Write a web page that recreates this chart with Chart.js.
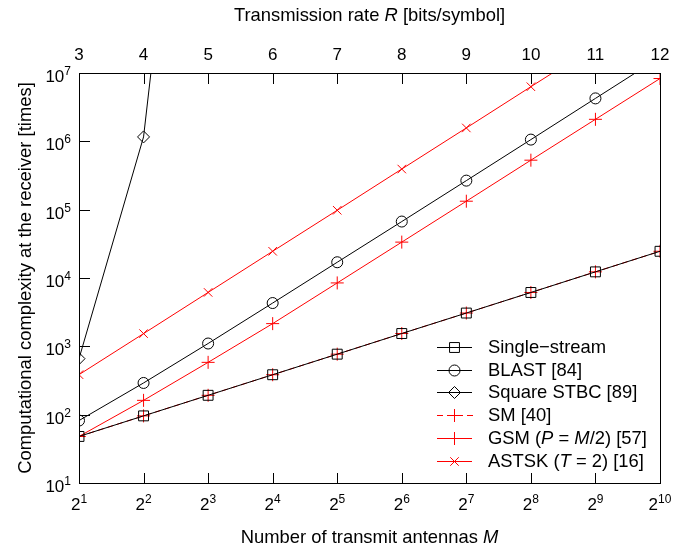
<!DOCTYPE html>
<html>
<head>
<meta charset="utf-8">
<script src="https://cdn.jsdelivr.net/npm/chart.js@4.4.0/dist/chart.umd.min.js"></script>
<style>
  html, body { margin: 0; padding: 0; background: #fff; }
  canvas { display: block; }
</style>
</head>
<body>
<canvas id="chart" width="689" height="550"></canvas>
<script>
// Complexity vs number of transmit antennas (log-log)
const antennas = [2, 4, 8, 16, 32, 64, 128, 256, 512, 1024];
const antennaExps = [1, 2, 3, 4, 5, 6, 7, 8, 9, 10];
const rateTicks = [3, 4, 5, 6, 7, 8, 9, 10, 11, 12];
const complexityExps = [1, 2, 3, 4, 5, 6, 7];

const singleStream = [48, 96, 192, 384, 768, 1540, 3070, 6140, 12300, 24600];
const blast = [82, 291, 1100, 4300, 17000, 67000, 266000, 1060000, 4250000, 17000000];
const squareStbc = [660, 1160000, 200000000000000]; // 2^3 and beyond are far off the chart
const sm = [48, 96, 192, 384, 768, 1540, 3070, 6140, 12300, 24600];
const gsm = [48, 162, 583, 2150, 8470, 33500, 133000, 530000, 2100000, 8300000];
const astsk = [385, 1535, 6150, 24600, 98000, 393000, 1570000, 6300000, 25000000, 100000000];

// legend text, [text, italic] parts
const legendLabels = [
  [['Single\u2212stream', false]],
  [['BLAST [84]', false]],
  [['Square STBC [89]', false]],
  [['SM [40]', false]],
  [['GSM (', false], ['P', true], [' = ', false], ['M', true], ['/2) [57]', false]],
  [['ASTSK (', false], ['T', true], [' = 2) [16]', false]],
];

const BLACK = '#000000';
const RED = '#ff0000';
const seriesColors = [BLACK, BLACK, BLACK, RED, RED, RED];
const seriesMarkers = ['rect', 'circle', 'rectRot', 'cross', 'cross', 'crossRot'];
const markerRadii = [7, 5.5, 6, 6.5, 6.5, 6];
const seriesDash = [[], [], [], [6, 4], [], []];

const FAMILY = '"Liberation Sans", Arial, Helvetica, sans-serif';
const TEXT = 18.4, TICK = 17, SUP = 12;
const font = (size, italic) => (italic ? 'italic ' : '') + size + 'px ' + FAMILY;
const pts = (vals) => vals.map((v, i) => ({ x: antennas[i], y: v }));

function series(data, i) {
  return {
    data: pts(data),
    borderColor: seriesColors[i],
    borderWidth: 1,
    borderDash: seriesDash[i],
    backgroundColor: 'rgba(0,0,0,0)',
    pointStyle: seriesMarkers[i],
    pointRadius: markerRadii[i],
    pointBorderColor: seriesColors[i],
    pointBackgroundColor: 'rgba(0,0,0,0)',
    pointBorderWidth: 1,
    tension: 0,
    fill: false,
  };
}

// mixed roman/italic text, left-aligned at x
function drawParts(ctx, parts, x, y, size) {
  ctx.textAlign = 'left';
  parts.forEach(([t, it]) => {
    ctx.font = font(size, it);
    ctx.fillText(t, x, y);
    x += ctx.measureText(t).width;
  });
}
function partsWidth(ctx, parts, size) {
  let w = 0;
  parts.forEach(([t, it]) => { ctx.font = font(size, it); w += ctx.measureText(t).width; });
  return w;
}

function drawPower(ctx, base, exp, x, y, align) {
  ctx.font = font(TICK, false);
  const bw = ctx.measureText(base).width;
  ctx.font = font(SUP, false);
  const ew = ctx.measureText(String(exp)).width;
  const sx = align === 'right' ? x - bw - ew : x - (bw + ew) / 2;
  ctx.textAlign = 'left';
  ctx.font = font(TICK, false);
  ctx.fillText(base, sx, y);
  ctx.font = font(SUP, false);
  ctx.fillText(String(exp), sx + bw, y - 7);
}

const decorations = {
  id: 'decorations',
  afterDatasetsDraw(chart) {
    const { ctx, chartArea: a, scales } = chart;
    ctx.save();
    ctx.strokeStyle = BLACK;
    ctx.fillStyle = BLACK;
    ctx.lineWidth = 1;
    ctx.setLineDash([]);

    // frame
    ctx.strokeRect(Math.round(a.left) + 0.5, Math.round(a.top) + 0.5,
      Math.round(a.right - a.left), Math.round(a.bottom - a.top));

    // inward ticks
    ctx.beginPath();
    antennas.forEach(m => {
      const px = Math.round(scales.x.getPixelForValue(m)) + 0.5;
      ctx.moveTo(px, a.bottom); ctx.lineTo(px, a.bottom - 10);
    });
    rateTicks.forEach(r => {
      const px = Math.round(scales.x2.getPixelForValue(r)) + 0.5;
      ctx.moveTo(px, a.top); ctx.lineTo(px, a.top + 11);
    });
    complexityExps.forEach(e => {
      const py = Math.round(scales.y.getPixelForValue(Math.pow(10, e))) + 0.5;
      ctx.moveTo(a.left, py); ctx.lineTo(a.left + 11, py);
    });
    ctx.stroke();

    // tick labels
    ctx.textBaseline = 'alphabetic';
    ctx.textAlign = 'center';
    ctx.font = font(TICK, false);
    rateTicks.forEach(r => ctx.fillText(String(r), scales.x2.getPixelForValue(r), a.top - 13));
    antennaExps.forEach((e, i) => {
      const px = scales.x.getPixelForValue(antennas[i]);
      drawPower(ctx, '2', e, px, a.bottom + 27, 'center');
    });
    complexityExps.forEach(e => {
      const py = scales.y.getPixelForValue(Math.pow(10, e));
      drawPower(ctx, '10', e, a.left - 8, py + 9, 'right');
    });

    // axis titles
    const cx = (a.left + a.right) / 2;
    const top = [['Transmission rate ', false], ['R', true], [' [bits/symbol]', false]];
    drawParts(ctx, top, cx - partsWidth(ctx, top, TEXT) / 2, 21, TEXT);
    const bottom = [['Number of transmit antennas ', false], ['M', true]];
    drawParts(ctx, bottom, cx - partsWidth(ctx, bottom, TEXT) / 2, 543, TEXT);
    ctx.save();
    ctx.translate(31, (a.top + a.bottom) / 2);
    ctx.rotate(-Math.PI / 2);
    const ytitle = [['Computational complexity at the receiver [times]', false]];
    drawParts(ctx, ytitle, -partsWidth(ctx, ytitle, TEXT) / 2, 0, TEXT);
    ctx.restore();
    ctx.restore();
  },
  afterDraw(chart) {
    // legend: line sample + marker + label
    const { ctx, chartArea: a } = chart;
    ctx.save();
    ctx.textBaseline = 'middle';
    const lx = a.right - 223, ly = a.bottom - 136, step = 22.7;
    legendLabels.forEach((label, i) => {
      const yi = Math.round(ly + i * step);
      const y = yi + 0.5;
      const mx = lx + 17.5;
      ctx.fillStyle = seriesColors[i];
      if (seriesDash[i].length) {
        for (let x = lx; x < lx + 35; x += 10) ctx.fillRect(x, yi, 6, 1);
      } else {
        ctx.fillRect(lx, yi, 35, 1);
      }
      ctx.lineWidth = 1;
      ctx.strokeStyle = seriesColors[i];
      ctx.beginPath();
      const r = markerRadii[i];
      if (seriesMarkers[i] === 'crossRot') {
        const d = r * Math.SQRT1_2;
        ctx.moveTo(mx - d, y - d); ctx.lineTo(mx + d, y + d);
        ctx.moveTo(mx + d, y - d); ctx.lineTo(mx - d, y + d);
        ctx.stroke();
      } else {
        ctx.fillStyle = 'rgba(255,255,255,0)';
        Chart.helpers.drawPoint(ctx, { pointStyle: seriesMarkers[i], radius: r, rotation: 0, borderWidth: 1 }, mx, y);
      }
      ctx.fillStyle = BLACK;
      drawParts(ctx, label, lx + 51, y, TEXT);
    });
    ctx.restore();
  }
};

new Chart(document.getElementById('chart'), {
  type: 'line',
  data: {
    datasets: [
      series(singleStream, 0),
      series(blast, 1),
      series(squareStbc, 2),
      series(sm, 3),
      series(gsm, 4),
      series(astsk, 5),
    ]
  },
  options: {
    responsive: false,
    devicePixelRatio: 1,
    animation: false,
    layout: { padding: { left: 0, right: 29, top: 0, bottom: 0 } },
    plugins: { legend: { display: false }, tooltip: { enabled: false } },
    scales: {
      x: {
        type: 'logarithmic', position: 'bottom', min: 2, max: 1024,
        ticks: { display: false }, grid: { display: false, drawTicks: false }, border: { display: false },
        afterFit: s => { s.height = 67; }
      },
      x2: {
        type: 'linear', position: 'top', min: 3, max: 12,
        ticks: { display: false, stepSize: 1 }, grid: { display: false, drawTicks: false }, border: { display: false },
        afterFit: s => { s.height = 73; }
      },
      y: {
        type: 'logarithmic', position: 'left', min: 10, max: 10000000,
        ticks: { display: false }, grid: { display: false, drawTicks: false }, border: { display: false },
        afterFit: s => { s.width = 79; }
      }
    }
  },
  plugins: [decorations]
});
</script>
</body>
</html>
